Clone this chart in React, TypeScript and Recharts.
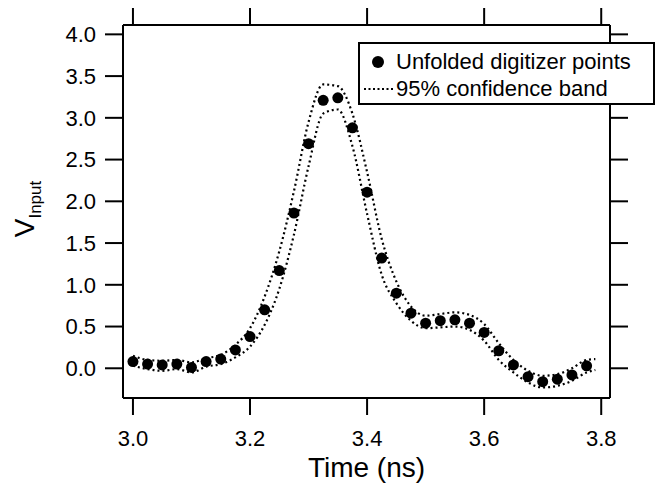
import { ComposedChart, Line, XAxis, YAxis } from "recharts";

// sample times (ns)
const times = [
  3.0, 3.025, 3.05, 3.075, 3.1, 3.125, 3.15, 3.175, 3.2, 3.225, 3.25, 3.275, 3.3, 3.325, 3.35, 3.375,
  3.4, 3.425, 3.45, 3.475, 3.5, 3.525, 3.55, 3.575, 3.6, 3.625, 3.65, 3.675, 3.7, 3.725, 3.75, 3.775, 3.79,
];

// unfolded digitizer points
const points = [
  0.08, 0.05, 0.04, 0.05, 0.01, 0.08, 0.11, 0.22, 0.38, 0.7, 1.17, 1.86, 2.69, 3.21, 3.24, 2.88,
  2.11, 1.32, 0.9, 0.66, 0.54, 0.57, 0.58, 0.54, 0.43, 0.21, 0.04, -0.1, -0.16, -0.13, -0.08, 0.03, null,
];

// 95% confidence band
const upper = [
  0.15, 0.1, 0.09, 0.1, 0.07, 0.12, 0.16, 0.28, 0.48, 0.86, 1.4, 2.12, 2.95, 3.4, 3.38, 3.05,
  2.35, 1.55, 1.04, 0.74, 0.63, 0.65, 0.67, 0.64, 0.53, 0.3, 0.1, -0.03, -0.09, -0.07, 0.0, 0.1, 0.11,
];
const lower = [
  0.03, -0.01, -0.03, -0.01, -0.05, 0.02, 0.05, 0.13, 0.26, 0.52, 0.95, 1.6, 2.42, 3.05, 3.1, 2.66,
  1.85, 1.12, 0.78, 0.57, 0.48, 0.49, 0.5, 0.46, 0.33, 0.1, -0.05, -0.17, -0.23, -0.21, -0.15, -0.05, -0.02,
];

const xTicks = [3.0, 3.2, 3.4, 3.6, 3.8];
const yTicks = [0, 0.5, 1, 1.5, 2, 2.5, 3, 3.5, 4];

const data = times.map((t, i) => ({ t, v: points[i], hi: upper[i], lo: lower[i] }));

const font = "'Liberation Sans', Arial, sans-serif";
const axisStroke = { stroke: "#000", strokeWidth: 2 };
const tickStyle = { fill: "#000", fontSize: 22, fontFamily: font };
const xDomain = [2.983, 3.815];
const yDomain = [-0.356, 4.112];

function LegendBox() {
  return (
    <div
      style={{
        position: "absolute",
        left: 358,
        top: 42,
        width: 297,
        height: 63,
        border: "2px solid #000",
        background: "#fff",
        boxSizing: "border-box",
        fontFamily: font,
        fontSize: 22,
        color: "#000",
        padding: "4px 0 0 2px",
      }}
    >
      <div style={{ display: "flex", alignItems: "center", height: 27 }}>
        <svg width={32} height={20}>
          <circle cx={16} cy={10} r={6} fill="#000" />
        </svg>
        <span style={{ marginLeft: 2 }}>Unfolded digitizer points</span>
      </div>
      <div style={{ display: "flex", alignItems: "center", height: 27 }}>
        <svg width={32} height={20}>
          <line x1={2} y1={10} x2={32} y2={10} stroke="#000" strokeWidth={2} strokeDasharray="2 2.5" />
        </svg>
        <span style={{ marginLeft: 2 }}>95% confidence band</span>
      </div>
    </div>
  );
}

// rotated "V" with subscript "Input"
function YTitle() {
  return (
    <text transform="translate(34, 209) rotate(-90)" x={0} y={0} textAnchor="middle" fontFamily={font} fill="#000">
      <tspan fontSize={28}>V</tspan>
      <tspan fontSize={17} dy={7}>
        Input
      </tspan>
    </text>
  );
}

export default function App() {
  return (
    <div style={{ position: "absolute", left: 0, top: 0, width: 659, height: 483, background: "#fff" }}>
      <ComposedChart width={659} height={483} data={data} margin={{ top: 24, right: 48, bottom: 0, left: 0 }}>
        <XAxis
          xAxisId="b"
          dataKey="t"
          type="number"
          domain={xDomain}
          ticks={xTicks}
          allowDataOverflow
          height={85}
          axisLine={axisStroke}
          tickLine={axisStroke}
          tickSize={17}
          tickMargin={15}
          tick={tickStyle}
          tickFormatter={(v: number) => v.toFixed(1)}
          label={{
            value: "Time (ns)",
            position: "insideBottom",
            offset: 6,
            style: { fontSize: 28, fontFamily: font, fill: "#000" },
          }}
        />
        <XAxis
          xAxisId="t"
          orientation="top"
          dataKey="t"
          type="number"
          domain={xDomain}
          ticks={xTicks}
          allowDataOverflow
          height={1}
          axisLine={axisStroke}
          tickLine={axisStroke}
          tickSize={17}
          tickFormatter={() => ""}
        />
        <YAxis
          yAxisId="l"
          type="number"
          domain={yDomain}
          ticks={yTicks}
          allowDataOverflow
          width={123}
          axisLine={axisStroke}
          tickLine={axisStroke}
          tickSize={18}
          tickMargin={9}
          tick={tickStyle}
          tickFormatter={(v: number) => v.toFixed(1)}
          label={{ content: () => <YTitle /> }}
        />
        <YAxis
          yAxisId="r"
          orientation="right"
          type="number"
          domain={yDomain}
          ticks={yTicks}
          allowDataOverflow
          width={1}
          axisLine={axisStroke}
          tickLine={axisStroke}
          tickSize={18}
          tickFormatter={() => ""}
        />
        <Line
          xAxisId="b"
          yAxisId="l"
          dataKey="hi"
          type="monotone"
          stroke="#000"
          strokeWidth={2.2}
          strokeDasharray="2 3"
          dot={false}
          activeDot={false}
          isAnimationActive={false}
        />
        <Line
          xAxisId="b"
          yAxisId="l"
          dataKey="lo"
          type="monotone"
          stroke="#000"
          strokeWidth={2.2}
          strokeDasharray="2 3"
          dot={false}
          activeDot={false}
          isAnimationActive={false}
        />
        <Line
          xAxisId="b"
          yAxisId="l"
          dataKey="v"
          stroke="none"
          dot={{ r: 5.5, fill: "#000", stroke: "none" }}
          activeDot={false}
          isAnimationActive={false}
        />
      </ComposedChart>
      <LegendBox />
    </div>
  );
}
